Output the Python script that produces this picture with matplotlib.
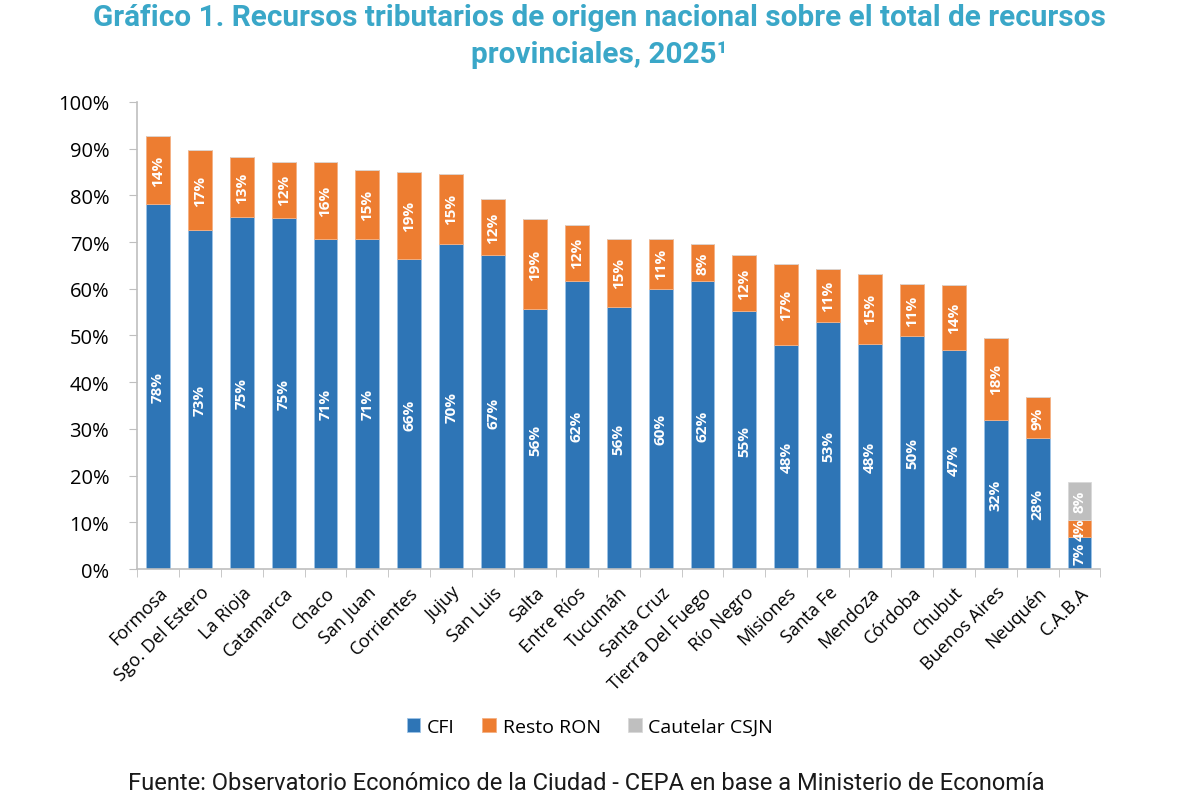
import matplotlib.pyplot as plt
import numpy as np

# Data (share of total provincial resources, %)
provincias = ["Formosa", "Sgo. Del Estero", "La Rioja", "Catamarca", "Chaco",
              "San Juan", "Corrientes", "Jujuy", "San Luis", "Salta",
              "Entre Ríos", "Tucumán", "Santa Cruz", "Tierra Del Fuego",
              "Río Negro", "Misiones", "Santa Fe", "Mendoza", "Córdoba",
              "Chubut", "Buenos Aires", "Neuquén", "C.A.B.A"]
cfi = [78.2, 72.6, 75.4, 75.2, 70.7, 70.7, 66.4, 69.6, 67.2, 55.7,
       61.7, 56.1, 60.0, 61.7, 55.2, 48.0, 52.9, 48.2, 49.9,
       46.9, 31.9, 28.1, 6.9]
resto_ron = [14.5, 17.1, 12.8, 12.0, 16.5, 14.7, 18.6, 15.0, 12.0, 19.2,
             12.0, 14.6, 10.7, 7.9, 12.0, 17.4, 11.3, 15.0, 11.1,
             13.9, 17.6, 8.7, 3.6]
cautelar = [0, 0, 0, 0, 0, 0, 0, 0, 0, 0,
            0, 0, 0, 0, 0, 0, 0, 0, 0,
            0, 0, 0, 8.1]

col_cfi = "#2E75B6"
col_resto = "#ED7D31"
col_caut = "#BFBFBF"
col_title = "#3AA7C8"

fig = plt.figure(figsize=(11.99, 8.04), dpi=100)
ax = fig.add_axes([0.1143, 0.291, 0.8035, 0.581])

x = np.arange(len(provincias))
cfi = np.array(cfi)
resto_ron = np.array(resto_ron)
cautelar = np.array(cautelar)
w = 0.57

b1 = ax.bar(x, cfi, w, color=col_cfi, edgecolor="#9DC3E6", linewidth=0.6, label="CFI")
b2 = ax.bar(x, resto_ron, w, bottom=cfi, color=col_resto, edgecolor="#F4B183",
            linewidth=0.6, label="Resto RON")
b3 = ax.bar(x, cautelar, w, bottom=cfi + resto_ron, color=col_caut,
            edgecolor="#D9D9D9", linewidth=0.6, label="Cautelar CSJN")

# value labels, rotated, white bold
lab_kw = dict(ha="center", va="center", rotation=90, color="white",
              fontsize=11, fontweight="bold", family="Open Sans")
for i in range(len(provincias)):
    ax.text(x[i], cfi[i] / 2, f"{round(cfi[i]):.0f}%", **lab_kw)
    ax.text(x[i], cfi[i] + resto_ron[i] / 2, f"{round(resto_ron[i]):.0f}%", **lab_kw)
    if cautelar[i] > 0:
        ax.text(x[i], cfi[i] + resto_ron[i] + cautelar[i] / 2,
                f"{round(cautelar[i]):.0f}%", **lab_kw)

ax.set_xlim(-0.5, len(provincias) - 0.5)
ax.set_ylim(0, 100)
ax.set_yticks(np.arange(0, 101, 10))
ax.set_yticklabels([f"{v}%" for v in range(0, 101, 10)], family="Open Sans", fontsize=14.5)
ax.set_xticks(x)
ax.set_xticklabels(provincias, rotation=45, ha="right", rotation_mode="anchor",
                   family="Open Sans", fontsize=13)
ax.set_xticks(np.arange(-0.5, len(provincias), 1), minor=True)
ax.tick_params(axis="x", which="major", length=0, pad=10)
ax.tick_params(axis="x", which="minor", length=6, color="#BFBFBF", direction="out")
ax.tick_params(axis="y", length=6, color="#BFBFBF", direction="out", pad=14)

for s in ["top", "right"]:
    ax.spines[s].set_visible(False)
for s in ["left", "bottom"]:
    ax.spines[s].set_color("#BFBFBF")
    ax.spines[s].set_linewidth(1.2)

fig.text(0.5, 0.978, "Gráfico 1. Recursos tributarios de origen nacional sobre el total de recursos",
         ha="center", va="center", color=col_title, fontsize=21.4, fontweight="bold",
         family="Roboto")
fig.text(0.5, 0.931, "provinciales, 2025¹", ha="center", va="center", color=col_title,
         fontsize=21.4, fontweight="bold", family="Roboto")

leg = fig.legend(handles=[b1, b2, b3], loc="center", bbox_to_anchor=(0.492, 0.095),
                 ncol=3, frameon=False, prop={"family": "Open Sans", "size": 14},
                 handlelength=0.7, handleheight=0.7, handletextpad=0.35, columnspacing=1.4)

fig.text(0.489, 0.026, "Fuente: Observatorio Económico de la Ciudad - CEPA en base a Ministerio de Economía",
         ha="center", va="center", fontsize=17, family="Roboto", color="#1a1a1a")

fig.savefig("out.png", dpi=100)
